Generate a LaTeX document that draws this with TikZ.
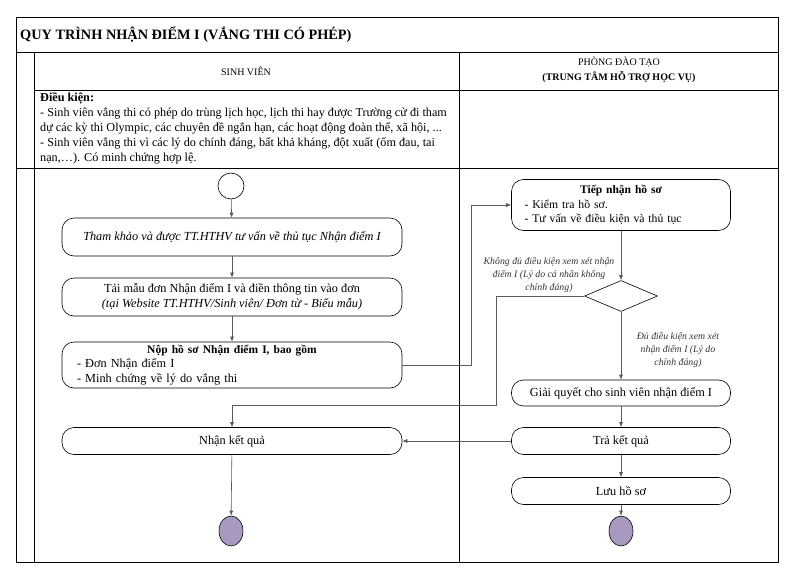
\documentclass[tikz,border=0pt]{standalone}
\usepackage{fontspec}
\setmainfont{Liberation Serif}
\usetikzlibrary{arrows.meta,positioning,shapes.geometric}
\definecolor{endfill}{RGB}{167,153,192}
\definecolor{lnk}{RGB}{90,90,90}
\tikzset{
  >={Latex[length=5pt,width=4pt]},
  frame/.style={draw=black, line width=0.9pt},
  act/.style={draw, line width=0.6pt, rounded corners=12pt, minimum width=340pt, align=center, inner sep=2pt},
  actr/.style={act, minimum width=219pt, minimum height=26pt},
  startnode/.style={draw, circle, line width=0.6pt, minimum size=26pt, inner sep=0pt},
  endnode/.style={draw, ellipse, fill=endfill, line width=0.6pt, minimum width=24pt, minimum height=30pt, inner sep=0pt},
  decide/.style={draw, diamond, line width=0.6pt, minimum width=73pt, minimum height=31pt, aspect=2.35, inner sep=0pt},
  link/.style={draw=lnk, line width=0.6pt, ->},
  note/.style={font=\fontsize{9.8}{13}\selectfont\itshape, align=center, text=black!80},
  body/.style={font=\fontsize{12.2}{15}\selectfont},
  boxtxt/.style={font=\fontsize{12.3}{14.6}\selectfont},
}

\begin{document}
\begin{tikzpicture}[x=1pt, y=-1pt]
  \useasboundingbox (0,0) rectangle (800,586);

  \draw[frame] (16,17) rectangle (778,562);
  \draw[frame] (16,52) -- (778,52);
  \draw[frame] (34,52) -- (34,562);
  \draw[frame] (34,90) -- (778,90);
  \draw[frame] (16,168) -- (778,168);
  \draw[frame] (459,52) -- (459,562);

  \node[anchor=west, font=\fontsize{14.3}{16}\selectfont\bfseries, inner sep=0pt] (title) at (20,35) {QUY TRÌNH NHẬN ĐIỂM I (VẮNG THI CÓ PHÉP)};
  \node[font=\fontsize{10}{12}\selectfont] (hsv) at (246,71) {SINH VIÊN};
  \node[font=\fontsize{10}{15}\selectfont, align=center] (hpdt) at (619,70) {PHÒNG ĐÀO TẠO\\ \textbf{(TRUNG TÂM HỖ TRỢ HỌC VỤ)}};

  \node[body, anchor=north west, align=left, inner sep=0pt] (cond) at (40,92) {\textbf{Điều kiện:}\\
- Sinh viên vắng thi có phép do trùng lịch học, lịch thi hay được Trường cử đi tham\\
dự các kỳ thi Olympic, các chuyên đề ngắn hạn, các hoạt động đoàn thể, xã hội, ...\\
- Sinh viên vắng thi vì các lý do chính đáng, bất khả kháng, đột xuất (ốm đau, tai\\
nạn,…). Có minh chứng hợp lệ.};

  \node[startnode] (start) at (231,186) {};
  \node[act, boxtxt, minimum height=38pt] (tk) at (232,237) {\itshape Tham khảo và được TT.HTHV tư vấn về thủ tục Nhận điểm I};
  \node[act, boxtxt, minimum height=38pt] (tm) at (232,297) {Tải mẫu đơn Nhận điểm I và điền thông tin vào đơn\\ \textit{(tại Website TT.HTHV/Sinh viên/ Đơn từ - Biểu mẫu)}};
  \node[act, boxtxt, minimum height=46pt, align=left, text width=310pt, inner xsep=15pt] (nop) at (232,365) {\makebox[310pt]{\fontsize{11.5}{14}\selectfont\textbf{Nộp hồ sơ Nhận điểm I, bao gồm}}\\
- Đơn Nhận điểm I\\
- Minh chứng về lý do vắng thi};
  \node[act, boxtxt, minimum height=27pt] (nk) at (232,441) {Nhận kết quả};
  \node[endnode] (endL) at (231,531) {};

  \node[actr, font=\fontsize{11.7}{14.5}\selectfont, minimum height=51pt, align=left, text width=193pt, inner xsep=13pt] (tn) at (621,205) {\makebox[193pt]{\fontsize{11.5}{14}\selectfont\textbf{Tiếp nhận hồ sơ}}\\
- Kiểm tra hồ sơ.\\
- Tư vấn về điều kiện và thủ tục};
  \node[decide] (dec) at (621,296) {};
  \node[actr, boxtxt] (gq) at (621,393) {Giải quyết cho sinh viên nhận điểm I};
  \node[actr, boxtxt, minimum height=27pt] (tr) at (621,441) {Trả kết quả};
  \node[actr, boxtxt, minimum height=27pt] (lu) at (621,491) {Lưu hồ sơ};
  \node[endnode] (endR) at (621,531) {};

  \node[note] (nokhong) at (549,275) {Không đủ điều kiện xem xét nhận\\ điểm I (Lý do cá nhân không\\ chính đáng)};
  \node[note] (nodu) at (678,350) {Đủ điều kiện xem xét\\ nhận điểm I (Lý do\\ chính đáng)};

  \draw[link] (start) -- (tk);
  \draw[link] (tk) -- (tm);
  \draw[link] (tm) -- (nop);
  \draw[link] (nop.east) -| ([xshift=-40pt]tn.west) -- (tn.west);
  \draw[link] (tn) -- (dec);
  \draw[link] (dec) -- (gq);
  \draw[link] (dec.west) -- ++(-88,0) |- ([yshift=22pt]nk.north) -- (nk.north);
  \draw[link] (gq) -- (tr);
  \draw[link] (tr) -- (lu);
  \draw[link] (lu) -- (endR);
  \draw[link] (tr) -- (nk);
  \draw[link] (nk) -- (endL);
\end{tikzpicture}
\end{document}
